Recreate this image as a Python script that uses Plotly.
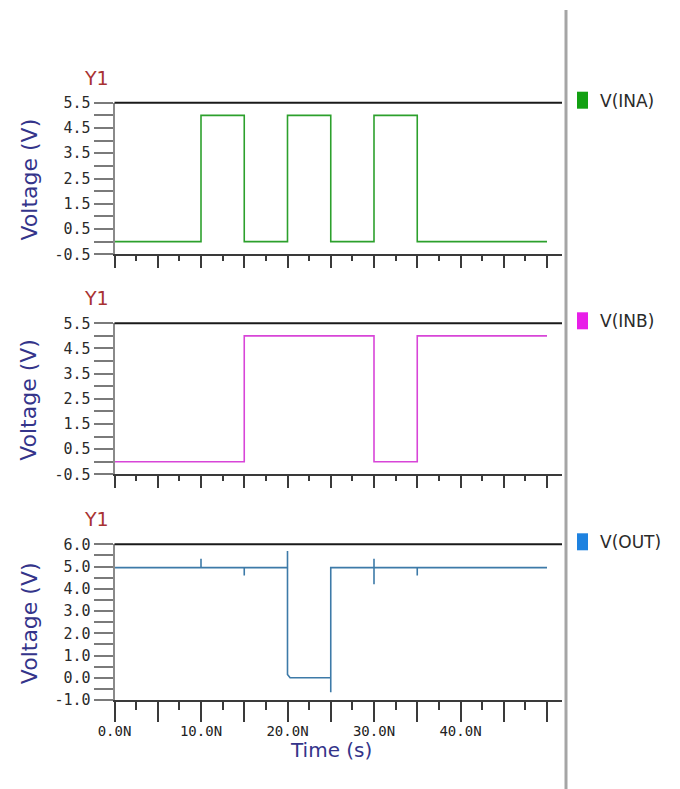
import plotly.graph_objects as go

# page (window) size and the default page margin around the plot div
PAGE_W, PAGE_H = 680, 789
OFF = 8
W, H = PAGE_W - OFF, PAGE_H - OFF

# ---- data (time in ns, voltage in V) ----
t_ina = [0, 10, 10, 15, 15, 20, 20, 25, 25, 30, 30, 35, 35, 50]
v_ina = [0, 0, 5, 5, 0, 0, 5, 5, 0, 0, 5, 5, 0, 0]

t_inb = [0, 15, 15, 30, 30, 35, 35, 50]
v_inb = [0, 0, 5, 5, 0, 0, 5, 5]

t_out = [0, 10, 10, 10, 15, 15, 15, 20, 20, 20, 20.3, 25, 25, 25, 30, 30, 30, 30, 35, 35, 35, 50]
v_out = [4.95, 4.95, 5.35, 4.95, 4.95, 4.6, 4.95, 4.95, 5.7, 0.15, 0.0, 0.0, -0.65, 4.95, 4.95, 5.35, 4.2, 4.95, 4.95, 4.6, 4.95, 4.95]

series_names = ["V(INA)", "V(INB)", "V(OUT)"]
line_colors = ["#2ca02c", "#d845d8", "#3d7aa8"]
legend_colors = ["#12a012", "#e81ee8", "#1e82e0"]

# tick labels
x_tickvals = [0, 5, 10, 15, 20, 25, 30, 35, 40, 45, 50]
x_ticktext = ["0.0N", "", "10.0N", "", "20.0N", "", "30.0N", "", "40.0N", "", ""]
y_in_tickvals = [-0.5, 0, 0.5, 1, 1.5, 2, 2.5, 3, 3.5, 4, 4.5, 5, 5.5]
y_in_ticktext = ["-0.5", "", "0.5", "", "1.5", "", "2.5", "", "3.5", "", "4.5", "", "5.5"]
y_out_tickvals = [-1, -0.5, 0, 0.5, 1, 1.5, 2, 2.5, 3, 3.5, 4, 4.5, 5, 5.5, 6]
y_out_ticktext = ["-1.0", "", "0.0", "", "1.0", "", "2.0", "", "3.0", "", "4.0", "", "5.0", "", "6.0"]

# ---- layout geometry (page pixels) ----
def px_x(x):
    return (x - OFF) / W

def px_y(y):
    return 1 - (y - OFF) / H

x_left, x_right = 114.5, 562
x_dom = [px_x(x_left), px_x(x_right)]
x_max = 50 * (x_right - x_left) / (547 - x_left)

panels = [  # (top px, bottom px)
    (102.7, 254.3),
    (323.3, 474.3),
    (544.3, 700.0),
]

fig = go.Figure()
traces = [(t_ina, v_ina), (t_inb, v_inb), (t_out, v_out)]
for i, (tt, vv) in enumerate(traces):
    fig.add_trace(go.Scatter(
        x=tt, y=vv, mode="lines", name=series_names[i],
        line=dict(color=line_colors[i], width=1.6),
        xaxis="x" if i == 0 else f"x{i+1}",
        yaxis="y" if i == 0 else f"y{i+1}",
        showlegend=False, hoverinfo="skip",
    ))

mono = "DejaVu Sans Mono"
sans = "DejaVu Sans"

layout = dict(
    width=W, height=H,
    margin=dict(l=0, r=0, t=0, b=0, autoexpand=False),
    paper_bgcolor="white", plot_bgcolor="white",
    showlegend=False,
    template="none",
)
shapes = []
annotations = []
for i, (top, bot) in enumerate(panels):
    sfx = "" if i == 0 else str(i + 1)
    is_last = i == 2
    layout["xaxis" + sfx] = dict(
        domain=x_dom, range=[0, x_max], anchor="y" + sfx,
        showgrid=False, zeroline=False, automargin=False,
        showline=True, linecolor="#3a3a3a", linewidth=2,
        ticks="outside", tickvals=x_tickvals,
        ticktext=x_ticktext if is_last else [""] * len(x_tickvals),
        ticklen=20 if is_last else 12, tickwidth=2, tickcolor="#3a3a3a",
        minor=dict(dtick=2.5, tick0=0, ticks="outside",
                   ticklen=8 if is_last else 5, tickwidth=2, tickcolor="#3a3a3a"),
        tickfont=dict(family=mono, size=14, color="#222222"),
        ticklabelstandoff=-3,
        fixedrange=True,
    )
    yr = [-1, 6] if is_last else [-0.5, 5.5]
    layout["yaxis" + sfx] = dict(
        domain=[px_y(bot), px_y(top)], range=yr, anchor="x" + sfx,
        showgrid=False, zeroline=False, automargin=False,
        showline=True, linecolor="#8a8a8a", linewidth=2,
        ticks="outside", ticklen=19, tickwidth=1.5, tickcolor="#7a7a7a",
        tickvals=y_out_tickvals if is_last else y_in_tickvals,
        ticktext=y_out_ticktext if is_last else y_in_ticktext,
        tickfont=dict(family=mono, size=15, color="#2a2a2a"),
        fixedrange=True,
    )
    # top frame line
    shapes.append(dict(type="line", xref=f"x{sfx} domain", yref=f"y{sfx} domain",
                       x0=0, x1=1, y0=1, y1=1, line=dict(color="#1a1a1a", width=2)))
    # Y1 label
    annotations.append(dict(text="Y1", x=px_x(96), y=px_y(top - 25), xref="paper", yref="paper",
                            showarrow=False, font=dict(family=sans, size=19, color="#a83232"),
                            xanchor="center", yanchor="middle"))
    # y axis title
    annotations.append(dict(text="Voltage (V)", x=px_x(29), y=px_y((top + bot) / 2 + 1),
                            xref="paper", yref="paper", textangle=-90, showarrow=False,
                            font=dict(family=sans, size=22, color="#34348a"),
                            xanchor="center", yanchor="middle"))
    # legend entry
    lx0, lx1 = 577, 588
    ly = top - 2
    shapes.append(dict(type="rect", xref="paper", yref="paper",
                       x0=px_x(lx0), x1=px_x(lx1), y0=px_y(ly + 8), y1=px_y(ly - 9),
                       fillcolor=legend_colors[i], line=dict(width=0)))
    annotations.append(dict(text=series_names[i], x=px_x(598), y=px_y(ly), xref="paper", yref="paper",
                            showarrow=False, xanchor="left", yanchor="middle",
                            font=dict(family=sans, size=17, color="#2a2a2a")))

annotations.append(dict(text="Time (s)", x=px_x(331), y=px_y(750), xref="paper", yref="paper",
                        showarrow=False, xanchor="center", yanchor="middle",
                        font=dict(family=sans, size=20, color="#34348a")))
# separator line for legend panel
shapes.append(dict(type="line", xref="paper", yref="paper",
                   x0=px_x(566), x1=px_x(566), y0=-0.01, y1=px_y(10),
                   line=dict(color="#a5a5a5", width=3)))

layout["shapes"] = shapes
layout["annotations"] = annotations
fig.update_layout(**layout)
fig.write_html("out.html")
